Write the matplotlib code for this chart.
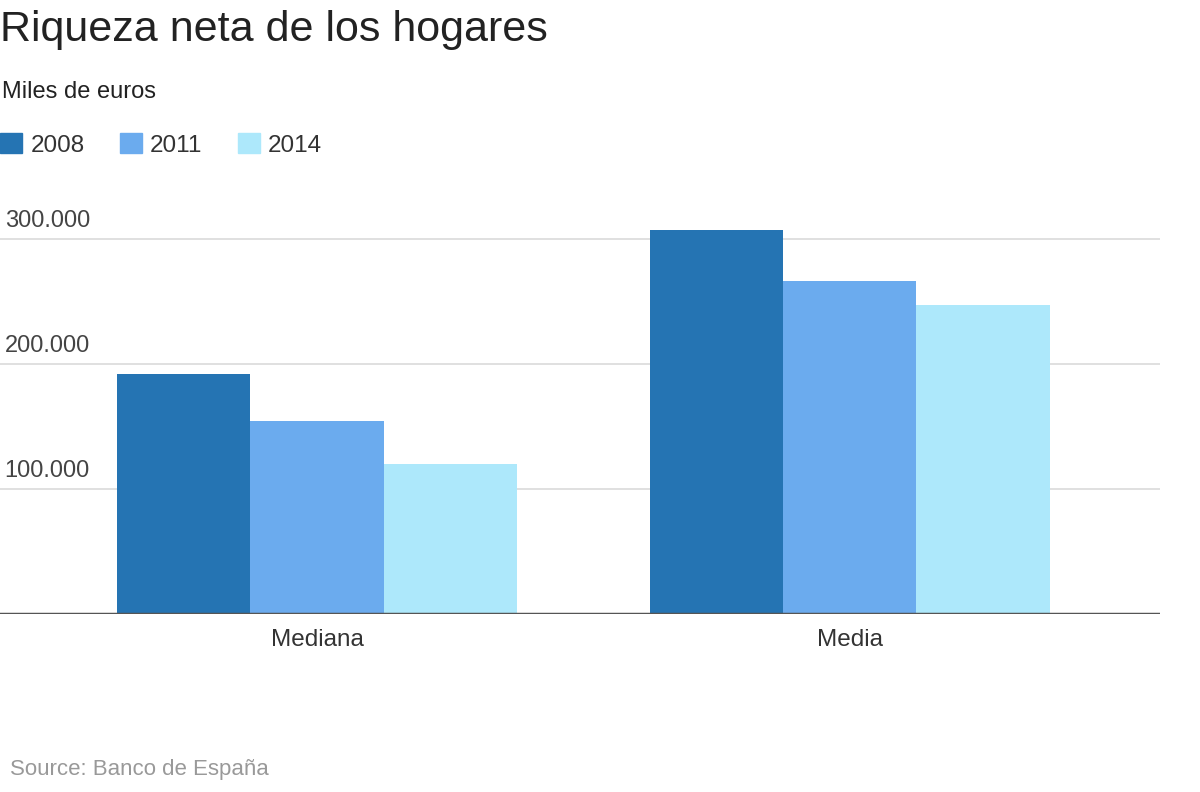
import matplotlib
matplotlib.use("Agg")
import matplotlib.pyplot as plt
import matplotlib.transforms as mtransforms
from matplotlib.patches import Patch
import numpy as np

# data (euros)
categories = ["Mediana", "Media"]
years = ["2008", "2011", "2014"]
values_2008 = [192000, 307000]
values_2011 = [154700, 266500]
values_2014 = [120000, 247000]
yticks = [100000, 200000, 300000]

colors = ["#2574B3", "#6BABEE", "#ADE8FB"]
series = [values_2008, values_2011, values_2014]

plt.rcParams['font.family'] = ['Liberation Sans', 'DejaVu Sans']

fig = plt.figure(figsize=(12, 7.92), dpi=100)
ax = fig.add_axes([0.0, 1 - 614 / 792, 1160 / 1200, 400 / 792])

x = np.arange(len(categories))
width = 0.25
for i, vals in enumerate(series):
    ax.bar(x + (i - 1) * width, vals, width, color=colors[i], label=years[i],
           zorder=3, linewidth=0)

ax.set_ylim(0, 320000)
ax.set_xlim(-0.595, 1.582)

# gridlines + labels sitting above them, at the left edge
trans = mtransforms.blended_transform_factory(ax.transAxes, ax.transData)
offset = mtransforms.ScaledTranslation(0, 7 / 100, fig.dpi_scale_trans)
for v in yticks:
    ax.axhline(v, color="#dddddd", linewidth=1.3, zorder=1)
    ax.text(0.004, v, f"{v:,.0f}".replace(",", "."), transform=trans + offset,
            ha="left", va="bottom", fontsize=17, color="#444444")
ax.axhline(0, color="#555555", linewidth=2.5, zorder=4)

ax.set_yticks([])
ax.set_xticks(x)
ax.set_xticklabels(categories, fontsize=17.5, color="#333333")
ax.tick_params(axis="x", length=0, pad=11)
for s in ax.spines.values():
    s.set_visible(False)

fig.text(0.0, 1 - 30 / 792, "Riqueza neta de los hogares", fontsize=31,
         color="#222222", va="center", ha="left")
fig.text(0.002, 1 - 92 / 792, "Miles de euros", fontsize=17,
         color="#222222", va="center", ha="left")

handles = [Patch(color=c, label=y) for c, y in zip(colors, years)]
fig.legend(handles=handles, loc="center left", bbox_to_anchor=(0.0, 1 - 145 / 792),
           ncol=3, frameon=False, fontsize=17.5, handlelength=0.9, handleheight=0.85,
           handletextpad=0.35, columnspacing=1.45, labelcolor="#333333",
           borderpad=0, borderaxespad=0)

fig.text(0.008, 1 - 770 / 792, "Source: Banco de España", fontsize=16,
         color="#999999", va="center", ha="left")

fig.savefig("out.png", dpi=100)
